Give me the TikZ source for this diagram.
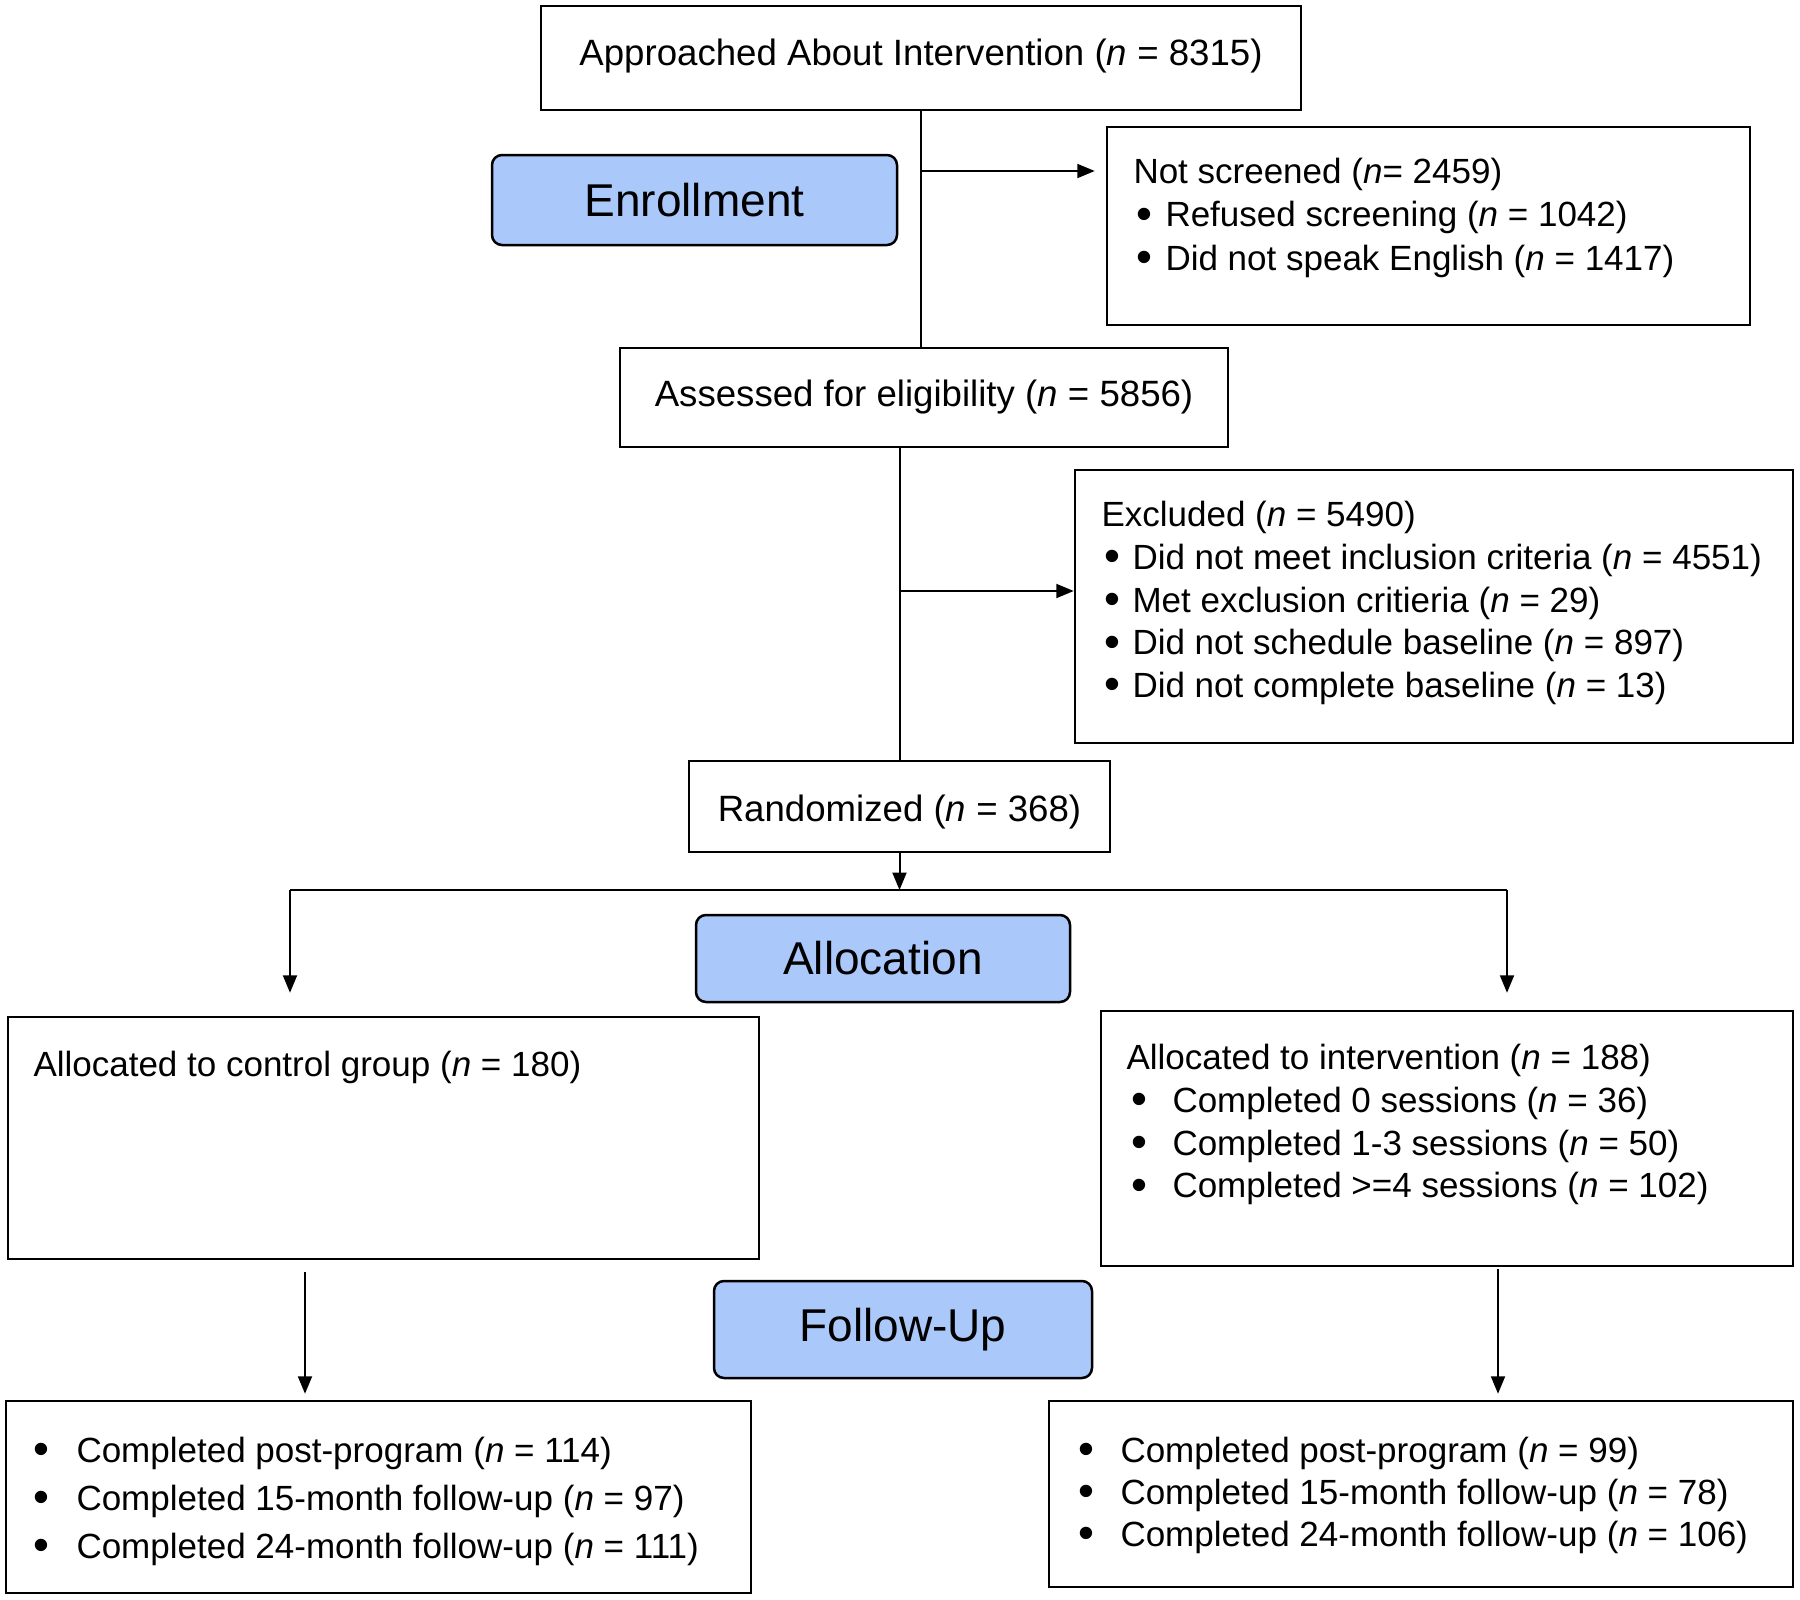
\documentclass[tikz,border=0pt]{standalone}
\usepackage{fontspec}
\setmainfont{Liberation Sans}
\usetikzlibrary{arrows.meta}
\definecolor{hdrblue}{RGB}{170,200,250}
\newcommand{\nn}{\textit{n}}
\newcommand{\bul}[2]{\makebox[#2][l]{\hspace{#1}\raisebox{-0.12ex}{\scalebox{1.3}{\textbullet}}}}
\begin{document}
\begin{tikzpicture}[x=0.4pt,y=-0.4pt,
  box/.style={draw, line width=1pt, inner sep=0pt, font=\fontsize{14.65pt}{17.1pt}\selectfont},
  hdr/.style={draw, line width=1pt, rounded corners=4pt, fill=hdrblue, inner sep=0pt, font=\fontsize{18.4pt}{22pt}\selectfont},
  txt/.style={anchor=north west, inner sep=0pt, align=left},
  flat/.style={text height=0pt, text depth=0pt},
  line/.style={line width=0.8pt},
  arr/.style={line width=0.8pt, -{Triangle[length=7pt,width=5.6pt]}}]
\fill[white] (0,0) rectangle (1800,1600);
\useasboundingbox (0,0) rectangle (1800,1600);

% boxes
\node[box, flat, minimum width=304pt, minimum height=41.6pt] (top) at (921,58) {\raisebox{-2.9pt}{Approached About Intervention (\nn{} = 8315)}};
\node[hdr, minimum width=162pt, minimum height=36pt] (enroll) at (694.5,200) {Enrollment};
\node[box, minimum width=257.2pt, minimum height=79.2pt] (ns) at (1428.5,226) {};
\node[box, minimum width=243.2pt, minimum height=39.6pt] (assess) at (924,397.5) {Assessed for eligibility (\nn{} = 5856)};
\node[box, minimum width=287.2pt, minimum height=109.2pt] (excl) at (1434,606.5) {};
\node[box, flat, minimum width=168.4pt, minimum height=36.4pt] (rand) at (899.5,806.5) {\raisebox{-6.1pt}{Randomized (\nn{} = 368)}};
\node[hdr, minimum width=149.6pt, minimum height=34.8pt] (alloc) at (883,958.5) {Allocation};
\node[box, minimum width=300.4pt, minimum height=96.8pt] (ctrl) at (383.5,1138) {};
\node[box, minimum width=276.8pt, minimum height=102pt] (intv) at (1447,1138.5) {};
\node[hdr, minimum width=151.2pt, minimum height=38.8pt] (fu) at (903,1329.5) {Follow-Up};
\node[box, minimum width=298pt, minimum height=76.8pt] (bl) at (378.5,1497) {};
\node[box, minimum width=297.6pt, minimum height=74.4pt] (br) at (1421,1494) {};

% texts
\node[txt, font=\fontsize{14pt}{17.4pt}\selectfont] (nstxt) at (1133,152.5)
  {\strut Not screened (\nn= 2459)\\
   \bul{1.2pt}{12.8pt}Refused screening (\nn{} = 1042)\\
   \bul{1.2pt}{12.8pt}Did not speak English (\nn{} = 1417)};
\node[txt, font=\fontsize{14pt}{17.1pt}\selectfont] (extxt) at (1101,496.1)
  {\strut Excluded (\nn{} = 5490)\\
   \bul{1.2pt}{12.4pt}Did not meet inclusion criteria (\nn{} = 4551)\\
   \bul{1.2pt}{12.4pt}Met exclusion critieria (\nn{} = 29)\\
   \bul{1.2pt}{12.4pt}Did not schedule baseline (\nn{} = 897)\\
   \bul{1.2pt}{12.4pt}Did not complete baseline (\nn{} = 13)};
\node[anchor=base west, inner sep=0pt, font=\fontsize{14pt}{17.1pt}\selectfont] (cttxt) at (33,1076)
  {Allocated to control group (\nn{} = 180)};
\node[txt, font=\fontsize{14pt}{17.1pt}\selectfont] (ivtxt) at (1126,1039.1)
  {\strut Allocated to intervention (\nn{} = 188)\\
   \bul{1.8pt}{18.4pt}Completed 0 sessions (\nn{} = 36)\\
   \bul{1.8pt}{18.4pt}Completed 1-3 sessions (\nn{} = 50)\\
   \bul{1.8pt}{18.4pt}Completed >=4 sessions (\nn{} = 102)};
\node[txt, font=\fontsize{14pt}{19.2pt}\selectfont] (bltxt) at (33,1428.4)
  {\strut\bul{0pt}{17.2pt}Completed post-program (\nn{} = 114)\\
   \bul{0pt}{17.2pt}Completed 15-month follow-up (\nn{} = 97)\\
   \bul{0pt}{17.2pt}Completed 24-month follow-up (\nn{} = 111)};
\node[txt, font=\fontsize{14pt}{16.8pt}\selectfont] (brtxt) at (1078,1432.6)
  {\strut\bul{0pt}{16.8pt}Completed post-program (\nn{} = 99)\\
   \bul{0pt}{16.8pt}Completed 15-month follow-up (\nn{} = 78)\\
   \bul{0pt}{16.8pt}Completed 24-month follow-up (\nn{} = 106)};

% connectors
\coordinate (j1) at (921,171);
\coordinate (j2) at (899.5,591);
\coordinate (split) at (899.5,890);
\coordinate (sl) at (290,890);
\coordinate (sr) at (1507,890);
\coordinate (xl) at (305,0);
\coordinate (xr) at (1498,0);

\draw[line] (top.south) -- (top.south |- assess.north);
\draw[arr, shorten >=4.4pt] (j1) -- (j1 -| ns.west);
\draw[line] (assess.south -| rand.north) -- (rand.north);
\draw[arr] (j2) -- (j2 -| excl.west);
\draw[arr] (rand.south) -- (split);
\draw[line] (sl) -- (sr);
\draw[arr, shorten >=9.2pt] (sl) -- (sl |- ctrl.north);
\draw[arr, shorten >=6.8pt] (sr) -- (sr |- intv.north);
\draw[arr, shorten <=4.8pt, shorten >=2.4pt] (ctrl.south -| xl) -- (bl.north -| xl);
\draw[arr, shorten <=0.8pt, shorten >=2.4pt] (intv.south -| xr) -- (br.north -| xr);
\end{tikzpicture}
\end{document}
